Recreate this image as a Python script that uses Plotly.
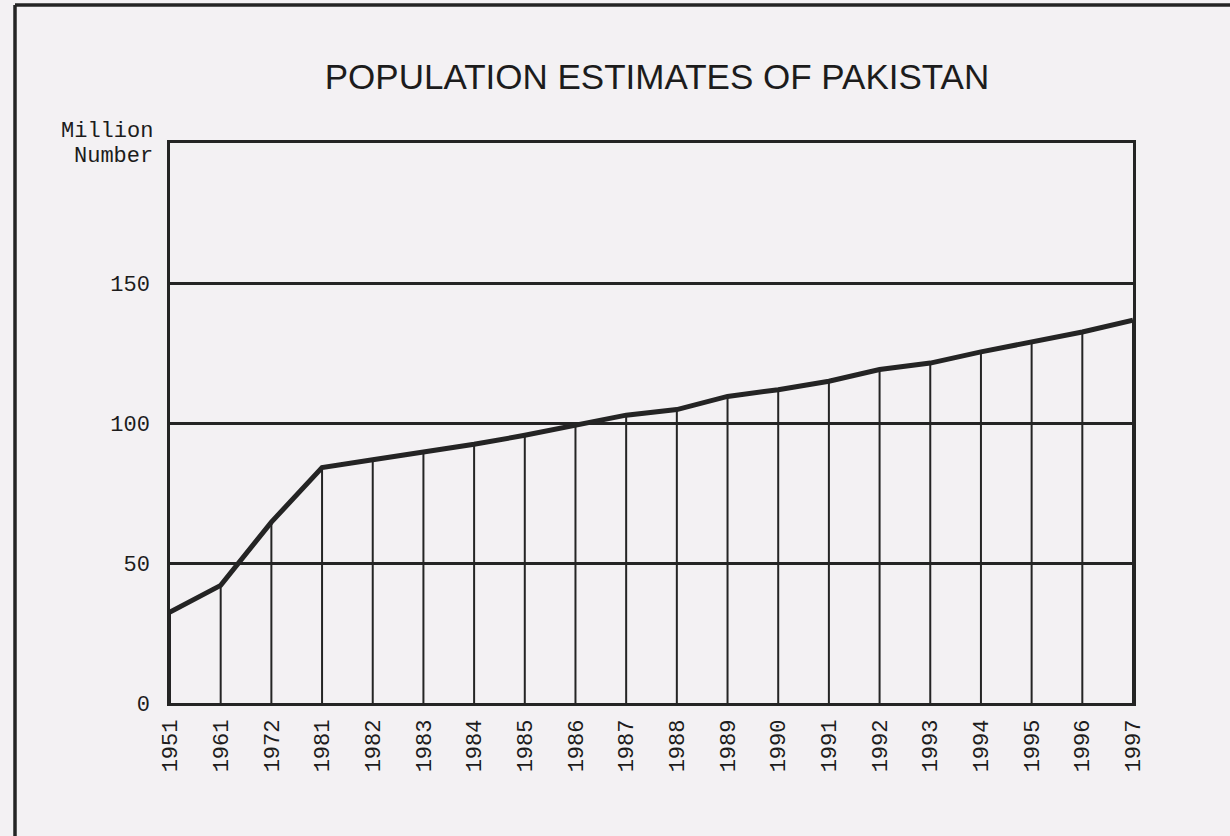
import plotly.graph_objects as go

years = ["1951", "1961", "1972", "1981", "1982", "1983", "1984", "1985", "1986", "1987",
         "1988", "1989", "1990", "1991", "1992", "1993", "1994", "1995", "1996", "1997"]
population = [32.5, 42.0, 64.6, 84.1, 86.9, 89.6, 92.4, 95.6, 99.0, 102.8,
              104.8, 109.5, 111.9, 114.9, 119.1, 121.4, 125.4, 128.9, 132.5, 136.7]
ytick_vals = [0, 50, 100, 150]

BG = "#f3f1f3"
INK = "#242424"
TXT = "#1c1c1c"
MONO = "Liberation Mono, Courier New, monospace"

# Drop lines from each point down to the x axis
drop_x, drop_y = [], []
for yr, v in zip(years, population):
    drop_x += [yr, yr, None]
    drop_y += [0, v, None]

fig = go.Figure()
fig.add_trace(go.Scatter(x=drop_x, y=drop_y, mode="lines",
                         line=dict(color=INK, width=2), hoverinfo="skip", showlegend=False))
fig.add_trace(go.Scatter(x=years, y=population, mode="lines",
                         line=dict(color=INK, width=5), showlegend=False))

L, R, T, B = 170, 97, 143, 133
W, H = 1230, 836
pw, ph = W - L - R, H - T - B

def px_x(x):
    return (x - L) / pw

def px_y(y):
    return (H - B - y) / ph

fig.update_layout(
    width=W, height=H,
    margin=dict(l=L, r=R, t=T, b=B),
    paper_bgcolor=BG, plot_bgcolor=BG,
    title=dict(text="POPULATION ESTIMATES OF PAKISTAN",
               font=dict(family="Liberation Sans, Arial, sans-serif", size=35, color=TXT),
               x=px_x(657), xref="paper", xanchor="center",
               y=1 - 77 / H, yref="container", yanchor="middle"),
    xaxis=dict(type="category", range=[0, len(years) - 1], showgrid=False,
               showline=True, mirror=True, linecolor=INK, linewidth=2.5,
               tickangle=-90, ticks="", ticklabelstandoff=5,
               tickfont=dict(family=MONO, size=22, color=TXT), zeroline=False),
    yaxis=dict(range=[0, 200], tickvals=ytick_vals, showgrid=True, gridcolor=INK, gridwidth=2.5,
               showline=True, mirror=True, linecolor=INK, linewidth=2.5,
               ticks="", ticklabelstandoff=13, zeroline=False,
               tickfont=dict(family=MONO, size=22, color=TXT)),
    annotations=[
        dict(text="Million", x=px_x(155), y=px_y(131), xref="paper", yref="paper",
             xanchor="right", yanchor="middle", showarrow=False,
             font=dict(family=MONO, size=22, color=TXT)),
        dict(text="Number", x=px_x(155), y=px_y(156), xref="paper", yref="paper",
             xanchor="right", yanchor="middle", showarrow=False,
             font=dict(family=MONO, size=22, color=TXT)),
    ],
    shapes=[
        dict(type="line", xref="paper", yref="paper", x0=px_x(15), x1=px_x(15),
             y0=px_y(5), y1=px_y(H), line=dict(color=INK, width=3.5)),
        dict(type="line", xref="paper", yref="paper", x0=px_x(15), x1=px_x(W),
             y0=px_y(5), y1=px_y(5), line=dict(color=INK, width=3.5)),
    ],
)

fig.write_html(
    "out.html",
    config={"displayModeBar": False},
    post_script="document.body.style.margin='0';document.body.style.background='%s';" % BG,
)
